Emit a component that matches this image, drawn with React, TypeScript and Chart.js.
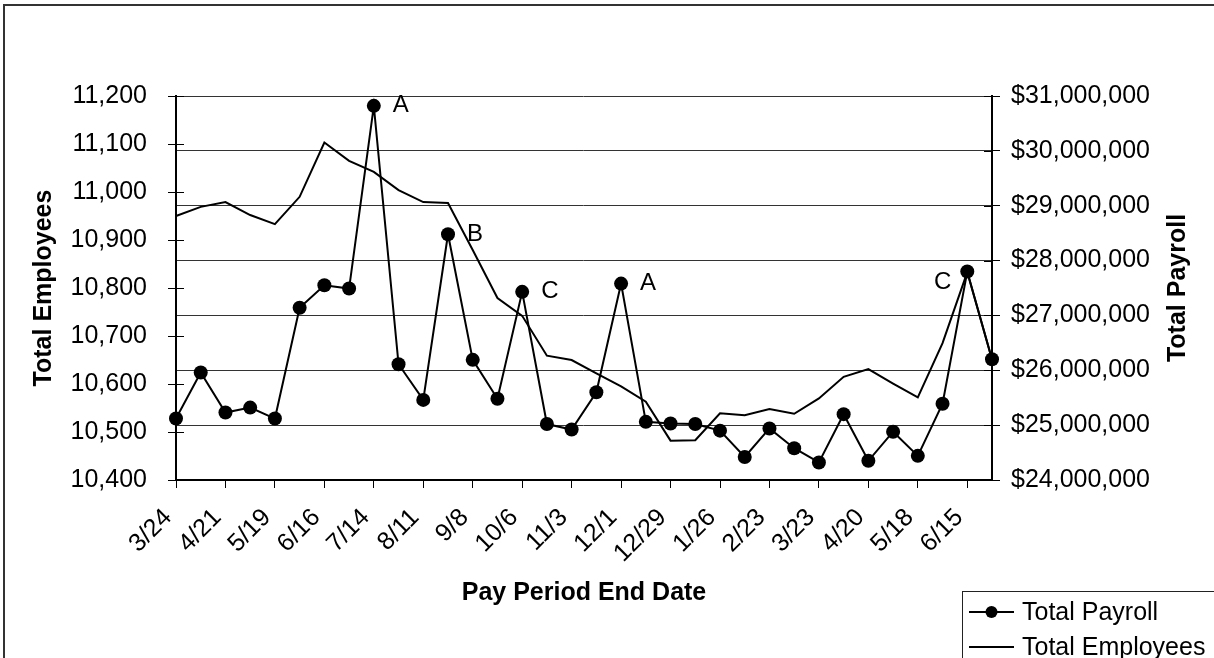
import React, { useEffect, useRef } from "react";
import { Chart, registerables } from "chart.js";

Chart.register(...registerables);

const dates = [
  "3/24", "4/7", "4/21", "5/5", "5/19", "6/2", "6/16", "6/30", "7/14", "7/28",
  "8/11", "8/25", "9/8", "9/22", "10/6", "10/20", "11/3", "11/17", "12/1", "12/15",
  "12/29", "1/12", "1/26", "2/9", "2/23", "3/9", "3/23", "4/6", "4/20", "5/4",
  "5/18", "6/1", "6/15", "6/29",
];

const totalPayroll = [
  25120000, 25960000, 25230000, 25320000, 25120000, 27140000, 27550000, 27490000, 30820000, 26110000,
  25460000, 28480000, 26190000, 25480000, 27430000, 25020000, 24920000, 25600000, 27580000, 25060000,
  25030000, 25020000, 24900000, 24420000, 24940000, 24580000, 24320000, 25200000, 24350000, 24880000,
  24440000, 25390000, 27800000, 26200000,
];

const totalEmployees = [
  10950, 10969, 10979, 10952, 10933, 10990, 11103, 11065, 11042, 11004,
  10979, 10977, 10879, 10779, 10742, 10659, 10650, 10622, 10595, 10563,
  10482, 10483, 10539, 10535, 10548, 10538, 10570, 10615, 10631, 10601,
  10572, 10685, 10833, 10651,
];

const noteIndex = [8, 11, 14, 18, 32];
const noteText = ["A", "B", "C", "A", "C"];
const noteSide = ["right", "right", "right", "right", "left"];

const FONT = "'Liberation Sans', Arial, Helvetica, sans-serif";

const extrasPlugin = {
  id: "extras",
  afterDraw(chart: any) {
    const ctx = chart.ctx;
    const area = chart.chartArea;
    ctx.save();
    // outer frame
    ctx.strokeStyle = "#333";
    ctx.lineWidth = 2;
    ctx.strokeRect(4, 5, 1400, 900);

    // inner cross ticks on the value axes
    const yl = chart.scales.y;
    ctx.strokeStyle = "#000";
    ctx.lineWidth = 1;
    yl.ticks.forEach((_t: any, i: number) => {
      const py = Math.round(yl.getPixelForTick(i)) + 0.5;
      ctx.beginPath();
      ctx.moveTo(area.left, py);
      ctx.lineTo(area.left + 8, py);
      ctx.stroke();
    });
    const yr = chart.scales.y1;
    yr.ticks.forEach((_t: any, i: number) => {
      const py = Math.round(yr.getPixelForTick(i)) + 0.5;
      ctx.beginPath();
      ctx.moveTo(area.right - 8, py);
      ctx.lineTo(area.right, py);
      ctx.stroke();
    });

    // point notes
    const meta = chart.getDatasetMeta(0);
    ctx.fillStyle = "#000";
    ctx.font = `24px ${FONT}`;
    ctx.textBaseline = "middle";
    noteIndex.forEach((idx, k) => {
      const el = meta.data[idx];
      if (!el) return;
      if (noteSide[k] === "left") {
        ctx.textAlign = "right";
        ctx.fillText(noteText[k], el.x - 16, el.y + 11);
      } else {
        ctx.textAlign = "left";
        ctx.fillText(noteText[k], el.x + 19, el.y);
      }
    });

    // right axis title
    ctx.save();
    ctx.translate(1178, (area.top + area.bottom) / 2);
    ctx.rotate(-Math.PI / 2);
    ctx.font = `bold 25px ${FONT}`;
    ctx.textAlign = "center";
    ctx.textBaseline = "middle";
    ctx.fillText("Total Payroll", 0, 0);
    ctx.restore();

    // legend
    ctx.strokeStyle = "#222";
    ctx.lineWidth = 1;
    ctx.strokeRect(962.5, 591.5, 400, 200);
    const rows = [612, 647];
    const labels = [chart.data.datasets[0].label, chart.data.datasets[1].label];
    ctx.font = `25px ${FONT}`;
    ctx.textAlign = "left";
    ctx.textBaseline = "middle";
    rows.forEach((ry, i) => {
      ctx.strokeStyle = "#000";
      ctx.lineWidth = 2;
      ctx.beginPath();
      ctx.moveTo(969, ry);
      ctx.lineTo(1014, ry);
      ctx.stroke();
      if (i === 0) {
        ctx.beginPath();
        ctx.arc(991.5, ry, 6, 0, Math.PI * 2);
        ctx.fill();
      }
      ctx.fillText(labels[i], 1022, ry + 1);
    });
    ctx.restore();
  },
};

export default function App() {
  const ref = useRef<HTMLCanvasElement | null>(null);
  useEffect(() => {
    if (!ref.current) return;
    const chart = new Chart(ref.current, {
      type: "line",
      data: {
        labels: dates,
        datasets: [
          {
            label: "Total Payroll",
            data: totalPayroll,
            yAxisID: "y1",
            borderColor: "#000",
            backgroundColor: "#000",
            borderWidth: 2,
            pointRadius: 7,
            pointBackgroundColor: "#000",
            pointBorderColor: "#000",
            pointBorderWidth: 0,
            tension: 0,
          },
          {
            label: "Total Employees",
            data: totalEmployees,
            yAxisID: "y",
            borderColor: "#000",
            backgroundColor: "#000",
            borderWidth: 2,
            pointRadius: 0,
            tension: 0,
          },
        ],
      },
      options: {
        responsive: false,
        animation: false,
        layout: { padding: { top: 96, left: 0, right: 0, bottom: 0 } },
        plugins: { legend: { display: false }, tooltip: { enabled: false } },
        scales: {
          x: {
            offset: false,
            afterFit: (s: any) => { s.height = 178; },
            grid: {
              drawOnChartArea: false,
              drawTicks: true,
              tickLength: 8,
              tickColor: (c: any) => (c.index % 2 === 0 ? "#000" : "rgba(0,0,0,0)"),
              lineWidth: 1,
            },
            border: { color: "#000", width: 2 },
            ticks: {
              autoSkip: false,
              maxRotation: 45,
              minRotation: 45,
              padding: 15,
              labelOffset: -8,
              color: "#000",
              font: { family: FONT, size: 25 },
              callback: (_v: any, i: number) => (i % 2 === 0 ? dates[i] : ""),
            },
            title: {
              display: true,
              text: "Pay Period End Date",
              color: "#000",
              font: { family: FONT, size: 25, weight: "bold" },
              padding: { top: 0, bottom: 50 },
            },
          },
          y: {
            position: "left",
            min: 10400,
            max: 11200,
            afterFit: (s: any) => { s.width = 176; },
            ticks: {
              stepSize: 100,
              padding: 21,
              color: "#000",
              font: { family: FONT, size: 25 },
              callback: (v: any) => Number(v).toLocaleString("en-US"),
            },
            grid: { drawOnChartArea: false, drawTicks: true, tickLength: 8, tickColor: "#000" },
            border: { color: "#000", width: 2 },
            title: {
              display: true,
              text: "Total Employees",
              color: "#000",
              font: { family: FONT, size: 25, weight: "bold" },
              padding: { top: 29, bottom: 0 },
            },
          },
          y1: {
            position: "right",
            min: 24000000,
            max: 31000000,
            afterFit: (s: any) => { s.width = 222; },
            ticks: {
              stepSize: 1000000,
              padding: 11,
              color: "#000",
              font: { family: FONT, size: 25 },
              callback: (v: any) => "$" + Number(v).toLocaleString("en-US"),
            },
            grid: { drawOnChartArea: true, drawTicks: true, tickLength: 8, color: "#333", tickColor: "#000", lineWidth: 1 },
            border: { color: "#000", width: 2 },
          },
        },
      },
      plugins: [extrasPlugin],
    });
    return () => chart.destroy();
  }, []);
  return (
    <div style={{ position: "absolute", left: 0, top: 0, width: 1214, height: 658, background: "#fff" }}>
      <canvas ref={ref} width={1214} height={658} style={{ display: "block" }} />
    </div>
  );
}
